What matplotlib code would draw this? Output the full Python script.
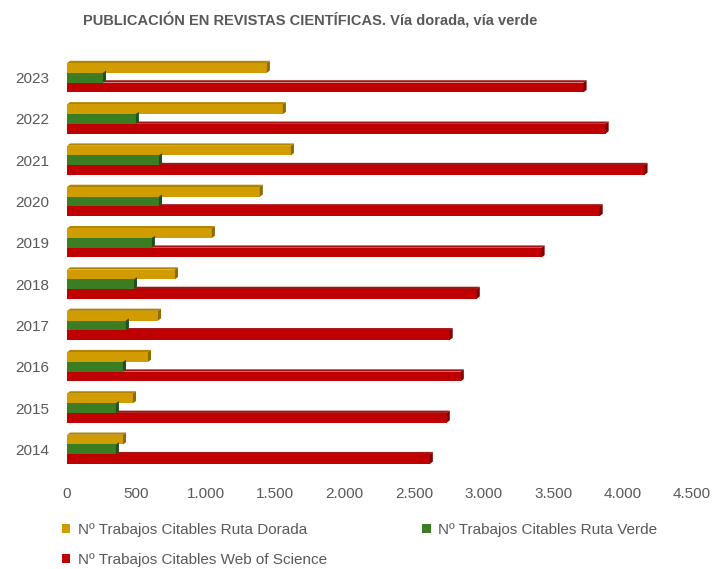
import matplotlib.pyplot as plt
from matplotlib.patches import Polygon
from matplotlib.ticker import FuncFormatter
import numpy as np

years = ["2014", "2015", "2016", "2017", "2018", "2019", "2020", "2021", "2022", "2023"]
dorada = [403, 475, 583, 655, 777, 1043, 1388, 1612, 1554, 1439]
verde = [352, 352, 403, 424, 482, 611, 662, 662, 496, 259]
wos = [2612, 2734, 2835, 2755, 2950, 3417, 3835, 4158, 3878, 3719]

series = [
    ("Nº Trabajos Citables Ruta Dorada", dorada, "#D09C00", "#8E6B00", "#B08400", 0.235),
    ("Nº Trabajos Citables Ruta Verde", verde, "#3B7D23", "#22501A", "#2F6A1C", 0.0),
    ("Nº Trabajos Citables Web of Science", wos, "#C00000", "#7A0000", "#A31515", -0.235),
]

plt.rcParams['font.family'] = ['Liberation Sans', 'DejaVu Sans']
gris = "#595959"

fig = plt.figure(figsize=(7.15, 5.69), dpi=100)
ax = fig.add_axes([67 / 715, 1 - 470 / 569, 625 / 715, 413 / 569])

y = np.arange(len(years))
h = 0.235
dx, dy = 22, 0.055  # profundidad del efecto 3D

handles = []
for nombre, vals, col, lado, tapa, off in series:
    b = ax.barh(y + off, vals, height=h, color=col, label=nombre, zorder=2)
    handles.append(b)
    for yi, v in zip(y + off, vals):
        top = yi + h / 2
        ax.add_patch(Polygon([(0, top), (v, top), (v + dx, top + dy), (dx, top + dy)],
                             closed=True, color=tapa, lw=0, zorder=1))
        ax.add_patch(Polygon([(v, yi - h / 2), (v + dx, yi - h / 2 + dy), (v + dx, top + dy), (v, top)],
                             closed=True, color=lado, lw=0, zorder=3))

ax.set_xlim(0, 4500)
ax.set_ylim(-0.5, 9.5)
ax.set_xticks(range(0, 4501, 500))
ax.xaxis.set_major_formatter(FuncFormatter(lambda v, p: f"{v:,.0f}".replace(",", ".")))
ax.set_yticks(y)
ax.set_yticklabels(years)
ax.tick_params(axis="both", length=0, labelsize=11, colors=gris)
ax.tick_params(axis="x", pad=12)
ax.tick_params(axis="y", pad=13)
for s in ax.spines.values():
    s.set_visible(False)

fig.text(310 / 715, 1 - 21 / 569, "PUBLICACIÓN EN REVISTAS CIENTÍFICAS. Vía dorada, vía verde",
         ha="center", va="center", fontsize=10.5, fontweight="bold", color=gris)

leg = fig.legend([handles[0], handles[2], handles[1]],
                 [series[0][0], series[2][0], series[1][0]],
                 ncol=2, loc="upper left", bbox_to_anchor=(48 / 715, 1 - 509 / 569),
                 frameon=False, fontsize=11, handlelength=0.55, handleheight=0.55,
                 handletextpad=0.5, columnspacing=6.25, labelspacing=1.05)
for t in leg.get_texts():
    t.set_color(gris)

fig.savefig("out.png", dpi=100)
